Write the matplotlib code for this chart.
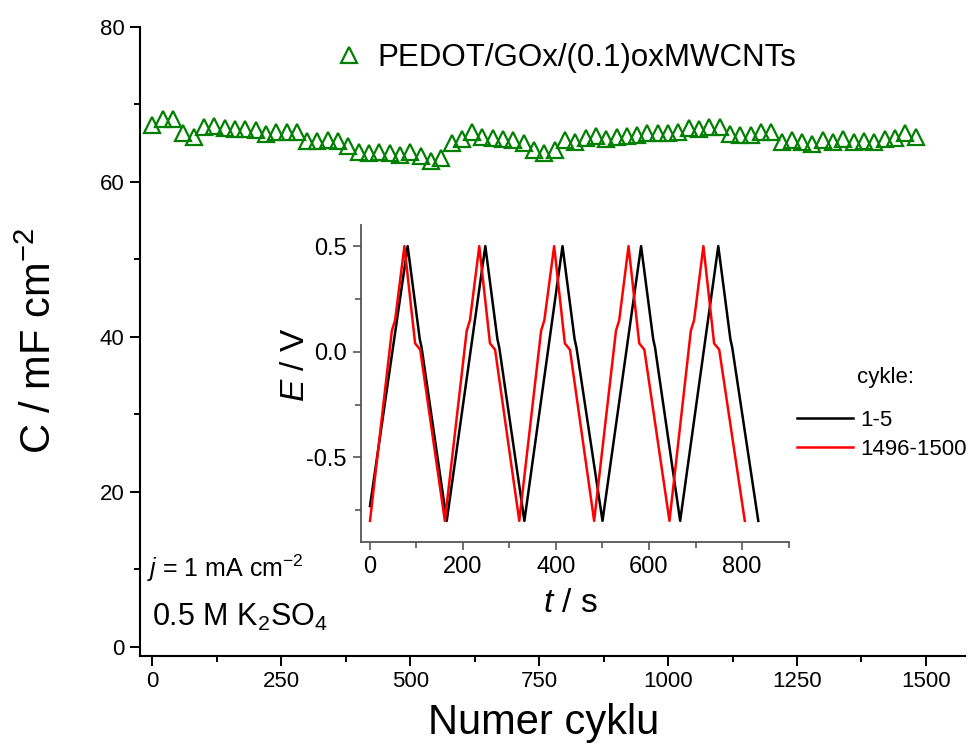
import matplotlib
matplotlib.use('Agg')
import matplotlib.pyplot as plt
from matplotlib.ticker import MultipleLocator

plt.rcParams['font.family'] = ['Liberation Sans', 'DejaVu Sans']
plt.rcParams['mathtext.fontset'] = 'custom'
plt.rcParams['mathtext.rm'] = 'Liberation Sans'
plt.rcParams['mathtext.it'] = 'Liberation Sans:italic'
plt.rcParams['mathtext.bf'] = 'Liberation Sans:bold'
plt.rcParams['axes.unicode_minus'] = False

# capacitance vs cycle number (every 20th cycle)
cycles = list(range(0, 1500, 20))
capacitance = [
    67.4, 68.1, 68.1, 66.3, 65.8, 67.1, 67.2, 67.0, 66.8, 66.8,
    66.7, 66.2, 66.4, 66.4, 66.4, 65.3, 65.3, 65.4, 65.3, 64.6,
    63.9, 63.7, 63.8, 63.7, 63.5, 63.8, 63.3, 62.7, 63.1, 65.0,
    65.6, 66.4, 65.8, 65.7, 65.6, 65.4, 65.0, 64.1, 63.7, 64.1,
    65.4, 65.2, 65.7, 65.9, 65.6, 65.8, 65.9, 66.1, 66.3, 66.3,
    66.3, 66.5, 66.9, 66.8, 67.1, 67.1, 66.2, 66.0, 66.1, 66.5,
    66.4, 65.1, 65.4, 65.1, 64.9, 65.4, 65.1, 65.5, 65.2, 65.3,
    65.2, 65.5, 65.7, 66.3, 65.8,
]
series_label = 'PEDOT/GOx/(0.1)oxMWCNTs'

# inset: charge/discharge curves, turning points
t_first = [0, 81, 107, 111, 165, 248, 274, 278, 332, 414, 440, 444, 500,
           583, 609, 613, 667, 749, 775, 779, 835]
e_first = [-0.73, 0.50, 0.06, 0.02, -0.80, 0.50, 0.06, 0.02, -0.80, 0.50, 0.06,
           0.02, -0.80, 0.50, 0.06, 0.02, -0.80, 0.50, 0.06, 0.02, -0.80]
t_last = [0, 47, 54, 74, 97, 108, 161, 208, 215, 235, 258, 269, 321, 368, 375,
          396, 419, 430, 482, 529, 536, 556, 579, 590, 644, 690, 697, 717, 740,
          751, 806]
e_last = [-0.80, 0.10, 0.15, 0.50, 0.04, 0.01, -0.80, 0.10, 0.15, 0.50, 0.04,
          0.01, -0.80, 0.10, 0.15, 0.50, 0.04, 0.01, -0.80, 0.10, 0.15, 0.50,
          0.04, 0.01, -0.80, 0.10, 0.15, 0.50, 0.04, 0.01, -0.80]
inset_labels = ['1-5', '1496-1500']

W, H = 970, 747
fig = plt.figure(figsize=(9.7, 7.47), dpi=100)

# main plot
ax = fig.add_axes([139.6 / W, 91.5 / H, 825 / W, 628.5 / H])
ax.plot(cycles, capacitance, linestyle='none', marker='^', ms=11,
        mfc='none', mec='#008000', mew=1.6, label=series_label)
ax.set_xlim(-25, 1575)
ax.set_ylim(-1.16, 80)
for s in ['top', 'right']:
    ax.spines[s].set_visible(False)
for s in ['left', 'bottom']:
    ax.spines[s].set_linewidth(1.5)
ax.xaxis.set_major_locator(MultipleLocator(250))
ax.xaxis.set_minor_locator(MultipleLocator(125))
ax.yaxis.set_major_locator(MultipleLocator(20))
ax.yaxis.set_minor_locator(MultipleLocator(10))
ax.tick_params(which='major', direction='out', length=7, width=1.4, labelsize=16, pad=4)
ax.tick_params(which='minor', direction='out', length=4, width=1.4)
ax.set_xlabel('Numer cyklu', fontsize=30)
ax.set_ylabel(r'C / mF cm$^{-2}$', fontsize=30)
ax.xaxis.set_label_coords(0.49, -0.075)
ax.yaxis.set_label_coords(-0.0965, 0.5)

ax.legend(loc='center left', bbox_to_anchor=(334 / W, 1 - 58 / H),
          bbox_transform=fig.transFigure, frameon=False, fontsize=22.5,
          handlelength=0.95, handletextpad=0.45, borderpad=0, borderaxespad=0,
          numpoints=1)

fig.text(147 / W, 1 - 568 / H, r'$j$ = 1 mA cm$^{-2}$', fontsize=18, va='center')
fig.text(152 / W, 1 - 617 / H, r'0.5 M K$_2$SO$_4$', fontsize=22, va='center')

# inset
axi = fig.add_axes([360.7 / W, 205 / H, 427.8 / W, 317 / H])
axi.plot(t_first, e_first, color='black', lw=1.8, label=inset_labels[0])
axi.plot(t_last, e_last, color='red', lw=1.8, label=inset_labels[1])
axi.set_xlim(-20, 900)
axi.set_ylim(-0.90, 0.60)
for s in ['top', 'right']:
    axi.spines[s].set_visible(False)
for s in ['left', 'bottom']:
    axi.spines[s].set_color('#555555')
    axi.spines[s].set_linewidth(1.3)
axi.xaxis.set_major_locator(MultipleLocator(200))
axi.xaxis.set_minor_locator(MultipleLocator(100))
axi.yaxis.set_major_locator(MultipleLocator(0.5))
axi.yaxis.set_minor_locator(MultipleLocator(0.25))
axi.tick_params(which='major', direction='out', length=6, width=1.2, color='#555555',
                labelsize=17, pad=4)
axi.tick_params(which='minor', direction='out', length=4, width=1.2, color='#555555')
axi.set_xlabel(r'$t$ / s', fontsize=24)
axi.set_ylabel(r'$E$ / V', fontsize=24)
axi.xaxis.set_label_coords(0.489, -0.145)
axi.yaxis.set_label_coords(-0.116, 0.558)

axi.legend(loc='center left', bbox_to_anchor=(797 / W, 1 - 435 / H),
           bbox_transform=fig.transFigure, frameon=False, fontsize=16,
           handlelength=2.5, handletextpad=0.36, labelspacing=0.35,
           borderpad=0, borderaxespad=0)
fig.text(857 / W, 1 - 378 / H, 'cykle:', fontsize=16, va='center')

fig.savefig('out.png', dpi=100)
plt.close(fig)
